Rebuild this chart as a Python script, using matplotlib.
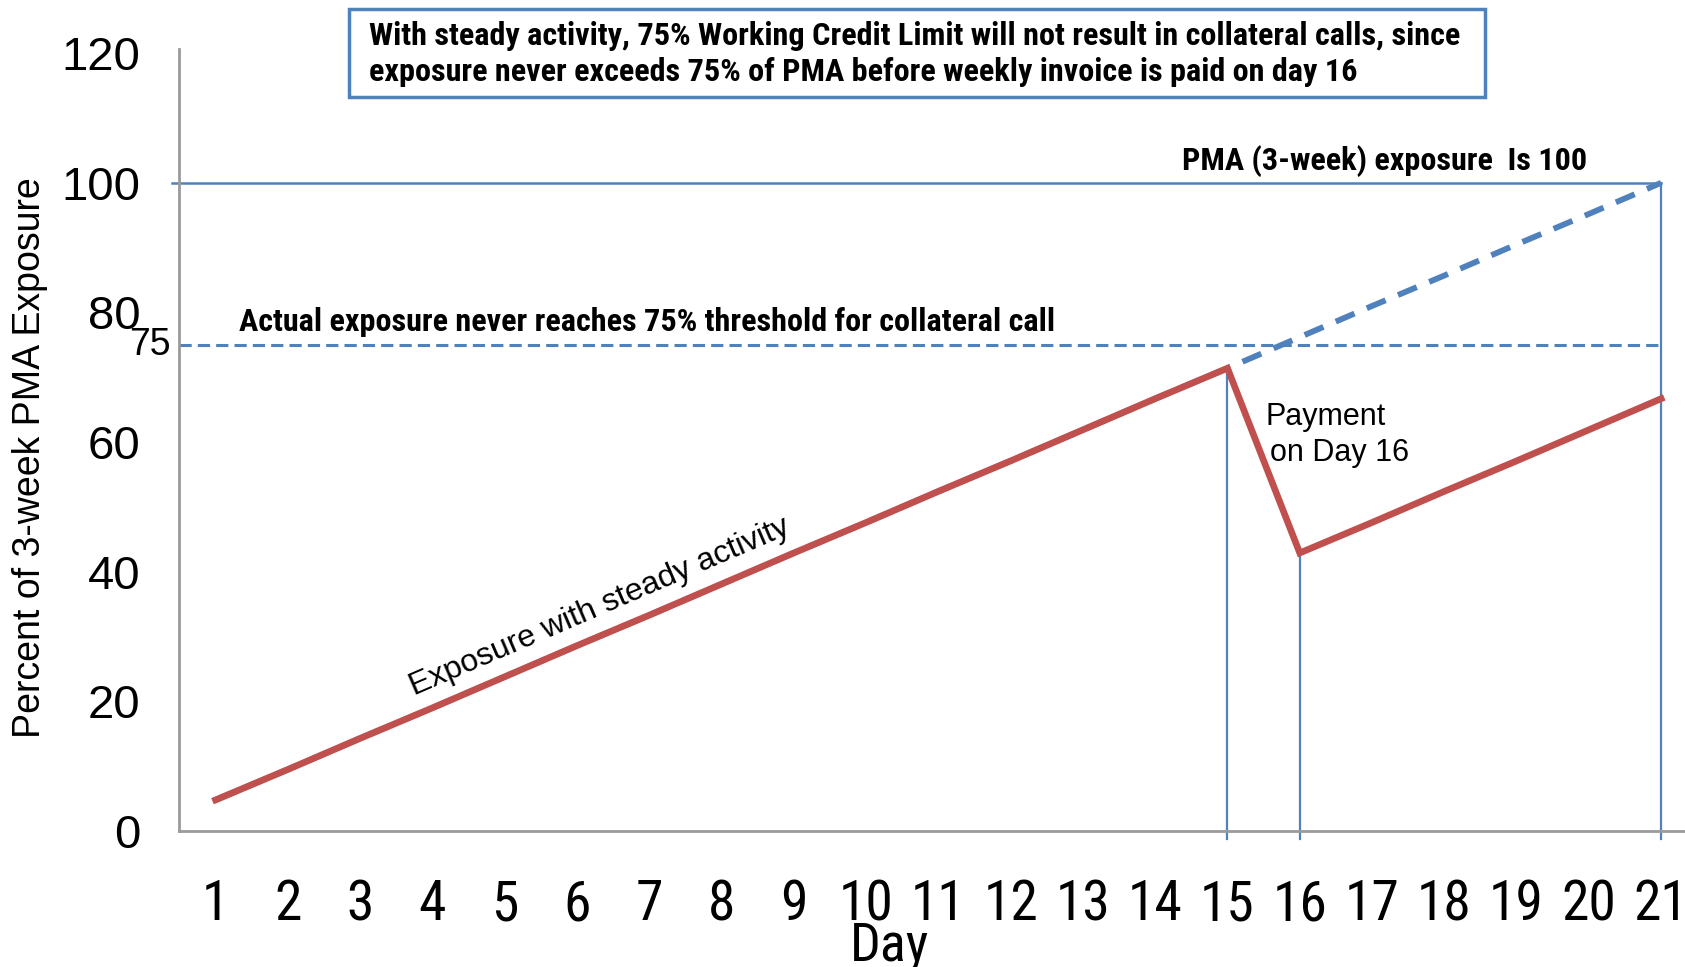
import matplotlib
matplotlib.use("Agg")
import matplotlib.pyplot as plt
from matplotlib.patches import Rectangle

# values (percent of 3-week PMA exposure)
days = [1, 2, 3, 4, 5, 6, 7, 8, 9, 10, 11, 12, 13, 14, 15, 16, 17, 18, 19, 20, 21]
projected = [4.8, 9.5, 14.3, 19.0, 23.8, 28.6, 33.3, 38.1, 42.9, 47.6, 52.4,
             57.1, 61.9, 66.7, 71.4, 76.2, 81.0, 85.7, 90.5, 95.2, 100.0]
actual = [4.8, 9.5, 14.3, 19.0, 23.8, 28.6, 33.3, 38.1, 42.9, 47.6, 52.4,
          57.1, 61.9, 66.7, 71.4, 42.9, 47.6, 52.4, 57.1, 61.9, 66.7]
pma_level = 100
threshold = 75
marker_days = [15, 16, 21]
marker_tops = [71.4, 42.9, 100]
yticks = [0, 20, 40, 60, 80, 100, 120]

blue = "#4F81BD"
red = "#C0504D"
grey = "#9A9A9A"
narrow = ["Roboto Condensed", "Archivo Narrow", "Liberation Sans"]
plain = ["Liberation Sans", "DejaVu Sans"]

fig = plt.figure(figsize=(16.85, 9.67), dpi=100)
ax = fig.add_axes([0.1065, 0.1406, 0.8935, 0.8044])
ax.set_xlim(0.5, 21.33)
ax.set_ylim(0, 120)

# reference lines
ax.plot([0.4, 21], [pma_level, pma_level], color=blue, lw=1.8, clip_on=False)
ax.plot([0.5, 21], [threshold, threshold], color=blue, lw=2.2, dashes=(4, 2))
for d, top in zip(marker_days, marker_tops):
    ax.plot([d, d], [-1.3, top], color=blue, lw=1.6, clip_on=False)

# exposure lines
ax.plot(days, projected, color=blue, lw=4.2, dashes=(3.5, 2.3), solid_capstyle="round")
ax.plot(days, actual, color=red, lw=4.8, solid_joinstyle="miter")

# axes styling
for s in ["top", "right"]:
    ax.spines[s].set_visible(False)
for s in ["left", "bottom"]:
    ax.spines[s].set_color(grey)
    ax.spines[s].set_linewidth(2)
ax.spines["left"].set_bounds(0, 120.7)
ax.set_xticks(days)
ax.set_xticklabels([str(d) for d in days], family=narrow, fontsize=40)
ax.set_yticks(yticks)
ax.set_yticklabels([str(v) for v in yticks], family=plain, fontsize=34)
ax.tick_params(axis="x", length=0, pad=34)
ax.tick_params(axis="y", length=0, pad=28)

# annotations
ax.text(0.38, threshold, "75", ha="right", va="center", fontsize=27,
        family=plain, clip_on=False)
ax.text(1.33, 78.6, "Actual exposure never reaches 75% threshold for collateral call",
        ha="left", va="center", fontsize=23.2, family=narrow, fontweight="bold")
ax.text(14.37, 103.3, "PMA (3-week) exposure  Is 100", ha="left", va="center",
        fontsize=23.2, family=narrow, fontweight="bold")
ax.text(15.52, 63.9, "Payment", ha="left", va="center", fontsize=22, family=plain)
ax.text(15.59, 58.3, "on Day 16", ha="left", va="center", fontsize=22, family=plain)
ax.text(6.32, 34.5, "Exposure with steady activity", ha="center", va="center",
        rotation=23.3, rotation_mode="anchor", fontsize=23, family=plain)

# note box at top
fig.patches.append(Rectangle((0.2071, 0.900), 0.674, 0.091, transform=fig.transFigure,
                             fill=False, edgecolor=blue, lw=2.5))
fig.text(0.2188, 0.9624,
         "With steady activity, 75% Working Credit Limit will not result in collateral calls, since",
         ha="left", va="center", fontsize=23.2, family=narrow, fontweight="bold")
fig.text(0.2188, 0.9256,
         "exposure never exceeds 75% of PMA before weekly invoice is paid on day 16",
         ha="left", va="center", fontsize=23.2, family=narrow, fontweight="bold")

fig.text(0.0178, 0.527, "Percent of 3-week PMA Exposure", rotation=90,
         ha="center", va="center", fontsize=27, family=plain)
fig.text(0.528, 0.007, "Day", ha="center", va="baseline", fontsize=39, family=narrow)

fig.savefig("out.png", dpi=100)
